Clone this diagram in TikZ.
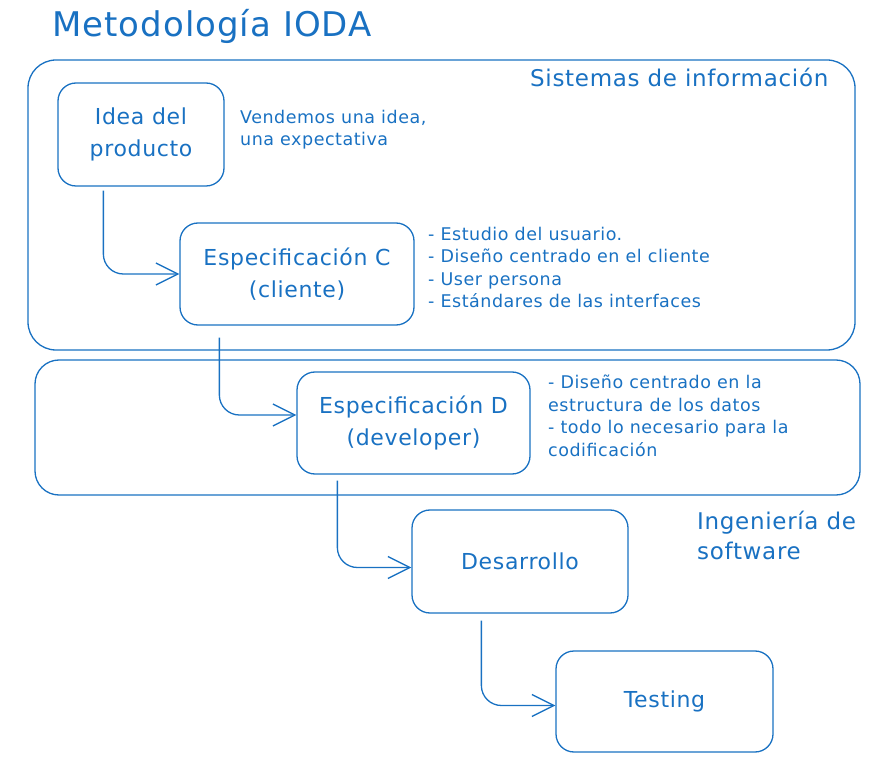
\documentclass[tikz,border=0pt]{standalone}
\usepackage{fontspec}
\setmainfont[LetterSpace=3]{DejaVu Sans}
\usetikzlibrary{arrows.meta}
\definecolor{exblue}{RGB}{25,113,194}
\tikzset{
  box/.style={draw=exblue, line width=1.3pt, rounded corners=18pt, align=center, text=exblue,
     font=\fontsize{22}{32}\selectfont, inner sep=0pt},
  frame/.style={draw=exblue, line width=1.3pt, rounded corners=28pt, inner sep=0pt},
  note/.style={text=exblue, align=left, anchor=north west, inner sep=0pt, font=\fontsize{17.5}{22.5}\selectfont},
  lbl/.style={text=exblue, align=left, inner sep=0pt, font=\fontsize{23}{30}\selectfont},
  arr/.style={draw=exblue, line width=1.3pt, rounded corners=20pt, -{Straight Barb[length=22pt,width=22pt,line width=1.3pt]}}
}
\begin{document}
\begin{tikzpicture}[x=1pt,y=-1pt]
\useasboundingbox (0,0) rectangle (895,767);
% title
\node[text=exblue, anchor=base west, inner sep=0pt, font=\fontsize{34}{40}\selectfont] (title) at (52,37) {Metodología IODA};
% frames
\node[frame, minimum width=827pt, minimum height=290pt] (sis) at (441.5,205) {};
\node[frame, rounded corners=24pt, minimum width=825pt, minimum height=135pt] (ing) at (447.5,427.5) {};
\node[lbl, anchor=base west] (sislbl) at (530,87) {Sistemas de información};
\node[lbl, anchor=north west] (inglbl) at (697,511) {Ingeniería de\\software};
% boxes
\node[box, minimum width=166pt, minimum height=103pt] (idea) at (141,134.5) {Idea del\\producto};
\node[box, minimum width=234pt, minimum height=102pt] (specC) at (297,274) {Especificación C\\(cliente)};
\node[box, minimum width=233pt, minimum height=102pt] (specD) at (413.5,423) {Especificación D\\(developer)};
\node[box, minimum width=216pt, minimum height=103pt] (dev) at (520,561.5) {Desarrollo};
\node[box, minimum width=217pt, minimum height=101pt] (test) at (664.5,701.5) {Testing};
% notes
\node[note] (ideanote) at (240,110) {Vendemos una idea,\\una expectativa};
\node[note] (cnote) at (428,227) {- Estudio del usuario.\\- Diseño centrado en el cliente\\- User persona\\- Estándares de las interfaces};
\node[note] (dnote) at (548,375) {- Diseño centrado en la\\estructura de los datos\\- todo lo necesario para la\\codificación};
% arrows
\draw[arr] ([xshift=46pt,yshift=-4pt]idea.south west) |- (specC.west);
\draw[arr] ([xshift=40pt,yshift=-12pt]specC.south west) |- ([yshift=8pt]specD.west);
\draw[arr] ([xshift=41pt,yshift=-6pt]specD.south west) |- ([yshift=-6pt]dev.west);
\draw[arr] ([xshift=70pt,yshift=-7pt]dev.south west) |- ([yshift=-4pt]test.west);
\end{tikzpicture}
\end{document}
